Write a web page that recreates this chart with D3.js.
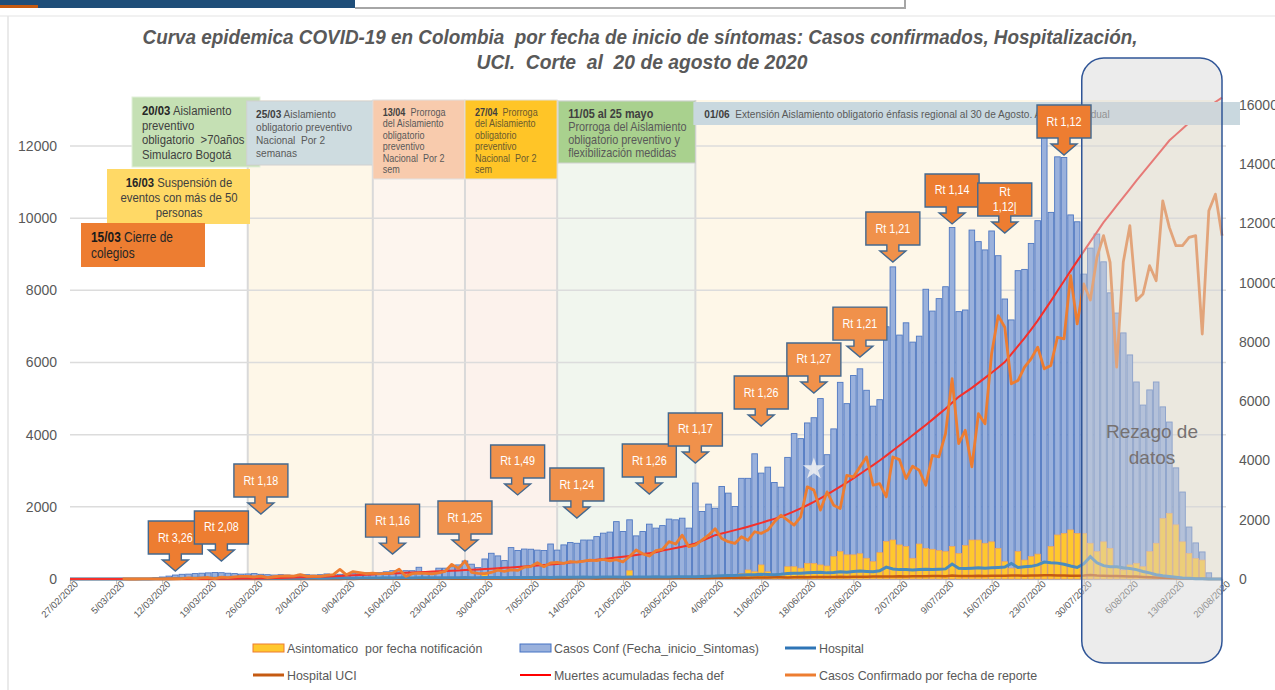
<!DOCTYPE html>
<html>
<head>
<meta charset="utf-8">
<script src="https://cdn.jsdelivr.net/npm/d3@7"></script>
<style>
  body { margin: 0; background: #fff; }
  svg { display: block; font-family: "Liberation Sans", Arial, sans-serif; }
  svg text { white-space: pre; }
</style>
</head>
<body>
<div id="chart"></div>
<script>
var svgWidth = 1275;
var svgHeight = 690;

// ---- data, one value per day from 27/02/2020 to 20/08/2020 ----
var startDate = new Date(2020, 1, 27);
var endDate = new Date(2020, 7, 20);
var dates = d3.timeDay.range(startDate, d3.timeDay.offset(endDate, 1));

// Casos Conf (Fecha_inicio_Sintomas) - left axis
var casosInicio = [
  0,0,0,0,0,0,0,0,2,1,3,6,12,
  30,55,80,110,130,135,150,160,170,180,175,160,150,135,140,150,130,120,110,120,110,100,130,120,110,120,140,120,130,150,160,170,175,
  176,176,200,230,200,230,230,325,200,200,300,300,340,390,500,410,315,555,713,640,510,870,790,830,825,800,790,970,800,945,
  1010,990,1080,1080,1175,1270,1300,1590,1315,1640,1195,1315,1520,1410,1480,1660,1640,1685,1410,2660,
  1870,2075,1960,2565,2380,2010,2790,2790,3470,2935,3100,2675,2545,3370,4030,3890,4325,4470,5000,3445,
  4160,5450,4860,5640,5825,5230,4790,4970,6990,8650,6760,7100,6565,6730,8030,7425,7770,8100,9740,7410,
  7455,9670,9350,9120,9645,8960,7760,7180,8545,8580,9300,9930,12500,10160,11700,11680,10090,9900,
  8450,9170,9560,8790,7930,7370,6820,6210,5460,4820,5240,5460,4770,4350,3080,2410,1440,1000,750,170,0,0
];

// Asintomatico por fecha notificacion - left axis
var asintomaticos = [
  0,0,0,0,0,0,0,0,0,0,0,0,0,0,0,0,0,0,0,0,0,0,0,0,0,0,0,0,0,0,0,
  0,0,0,0,0,0,0,0,0,0,0,0,0,0,0,0,0,0,0,0,0,0,0,0,0,0,0,0,0,0,0,
  20,170,20,0,0,30,0,0,60,0,20,0,0,30,0,0,40,0,20,0,30,0,20,230,30,40,20,50,40,30,60,40,50,
  50,60,80,70,90,60,100,150,250,200,390,200,100,120,340,340,300,435,430,390,360,620,760,670,670,700,575,480,730,1040,
  1080,945,900,575,970,850,825,790,760,900,710,
  925,1080,1080,990,1030,850,480,300,760,525,620,690,480,900,1220,1265,1360,1265,1265,990,
  760,1030,850,340,250,390,435,340,760,990,1680,1820,1500,1030,710,570,525,0,0,0
];

// Hospital - left axis
var hospital = [
  0,0,0,0,0,0,0,0,0,0,0,0,0,
  5,8,10,12,15,15,18,20,20,22,20,20,18,20,22,20,18,20,22,20,24,22,20,24,26,24,22,25,28,26,24,28,30,
  30,28,32,30,34,32,30,34,36,32,35,38,36,34,40,38,36,40,42,40,38,42,45,42,40,44,46,44,48,50,
  46,48,52,50,48,52,55,52,50,54,56,58,55,60,58,56,60,62,64,
  65,70,75,80,90,95,100,110,115,120,130,125,120,130,150,160,160,170,180,190,
  170,180,200,190,210,220,210,200,230,330,280,260,260,250,260,270,260,270,280,415,
  300,290,300,310,300,310,320,330,430,320,340,350,390,470,450,440,410,360,320,420,
  620,450,370,340,340,310,290,260,210,170,120,90,70,50,30,20,10,5,0,0,0
];

// Hospital UCI - left axis
var hospitalUci = [
  0,0,0,0,0,0,0,0,0,0,0,0,0,0,0,0,0,0,0,0,0,0,0,0,0,0,0,0,0,0,0,0,0,0,0,0,0,0,0,0,0,
  2,4,3,5,4,6,5,7,6,8,6,9,7,8,10,9,11,10,12,9,11,13,12,14,11,13,15,14,16,13,
  15,17,16,18,15,17,19,18,20,17,19,22,20,23,21,24,22,25,23,26,24,27,25,28,
  30,32,29,34,36,33,38,40,37,42,44,41,46,48,45,50,52,49,54,56,
  53,58,60,57,62,64,61,66,68,72,70,74,72,76,78,75,80,82,79,95,
  84,82,86,88,85,90,92,89,94,96,93,98,100,104,102,98,95,92,90,94,
  110,96,90,86,82,78,72,66,58,50,42,35,28,22,16,12,8,5,2,0,0
];

// Muertes acumuladas fecha def - right axis
var muertesAcum = [
  0,0,0,0,0,0,0,0,0,0,0,0,0,0,0,0,0,0,
  1,2,3,4,6,8,10,12,14,17,20,24,28,32,36,42,48,55,62,70,
  78,86,95,104,114,124,135,145,155,165,175,186,197,208,219,230,240,250,260,270,280,290,
  300,310,322,335,348,362,376,390,405,420,436,452,470,490,510,532,555,578,602,626,
  650,675,700,726,752,780,810,840,872,905,960,1000,1045,1090,1140,
  1200,1290,1385,1480,1535,1590,1650,1705,1765,1830,1895,1965,2030,2100,2190,2285,2385,2490,2600,2725,
  2850,2980,3115,3250,3395,3545,3695,3845,4000,4165,4335,4505,4675,4850,5025,5200,5380,5565,5750,5950,
  6150,6300,6450,6620,6790,6960,7140,7320,7590,7860,8130,8420,8720,9050,9380,9720,10060,10400,10730,11060,
  11390,11710,12035,12320,12600,12880,13160,13450,13720,13990,14260,14530,14800,15000,15200,15400,15590,15770,15950,16100,
  16250
];

// Casos Confirmado por fecha de reporte - right axis
var casosReporte = [
  0,0,0,0,0,0,0,0,
  1,0,0,6,2,7,6,11,8,14,39,17,37,50,15,65,48,75,92,88,68,100,48,76,94,108,96,146,92,98,89,120,150,325,140,250,
  215,180,200,170,190,200,335,90,180,200,190,170,210,260,495,360,605,225,190,180,
  220,300,260,310,290,400,420,550,415,540,560,530,590,570,600,640,620,660,610,650,
  580,760,980,850,775,955,1000,1260,1180,1480,1090,1145,
  1310,1480,1700,1370,1260,1200,1425,1310,1595,1540,1650,1930,2155,1990,1820,2100,3110,3000,2325,2940,
  2490,2380,3500,3445,3785,4120,3165,3220,2775,4120,4030,3390,3805,3670,3165,4175,4120,4905,6760,4570,
  5020,3785,5580,5240,7600,8890,8500,6590,6700,7150,7430,7825,7095,7210,8160,8105,10240,8610,
  9960,9420,10855,11590,10690,7150,10690,11925,9400,9620,10575,10070,12765,11870,11250,11250,11530,11590,8270,12430,12990,11590
];

// Rt callouts
var rtLabels = ["Rt 3,26", "Rt 2,08", "Rt 1,18", "Rt 1,16", "Rt 1,25", "Rt 1,49", "Rt 1,24", "Rt 1,26",
  "Rt 1,17", "Rt 1,26", "Rt 1,27", "Rt 1,21", "Rt 1,21", "Rt 1,14", "Rt\n1,12|", "Rt 1,12"];
var rtDates = ["14/03/2020", "21/03/2020", "27/03/2020", "16/04/2020", "27/04/2020", "5/05/2020", "14/05/2020", "25/05/2020",
  "1/06/2020", "11/06/2020", "19/06/2020", "26/06/2020", "1/07/2020", "10/07/2020", "18/07/2020", "27/07/2020"];
var rtTipValues = [220, 500, 1800, 690, 775, 2330, 1690, 2355, 3215, 4240, 5155, 6150, 8785, 9840, 9590, 11750];

// measure periods (background bands)
var bandStarts = ["25/03/2020", "13/04/2020", "27/04/2020", "11/05/2020", "1/06/2020", "30/07/2020"];
var bandEnds = ["13/04/2020", "27/04/2020", "11/05/2020", "1/06/2020", "30/07/2020", "20/08/2020"];

var leftTicks = [0, 2000, 4000, 6000, 8000, 10000, 12000];
var rightTicks = [0, 2000, 4000, 6000, 8000, 10000, 12000, 14000, 16000];

var parseDate = d3.timeParse("%d/%m/%Y");

var svg = d3.select("#chart")
  .append("svg")
  .attr("width", svgWidth)
  .attr("height", svgHeight);

svg.append("rect").attr("width", svgWidth).attr("height", svgHeight).attr("fill", "#fff");

// page header bits from the screenshot
svg.append("rect").attr("x", 0).attr("y", 0).attr("width", 355).attr("height", 8).attr("fill", "#1F4E79");
svg.append("rect").attr("x", 0).attr("y", 5).attr("width", 38).attr("height", 3).attr("fill", "#C55A11");
svg.append("line").attr("x1", 355).attr("x2", 905).attr("y1", 8).attr("y2", 8).attr("stroke", "#A6A6A6").attr("stroke-width", 2);
svg.append("line").attr("x1", 905).attr("x2", 905).attr("y1", 0).attr("y2", 9).attr("stroke", "#A6A6A6").attr("stroke-width", 2);
svg.append("line").attr("x1", 0).attr("x2", svgWidth).attr("y1", 16).attr("y2", 16).attr("stroke", "#E3E3E3").attr("stroke-width", 1);
svg.append("line").attr("x1", 8).attr("x2", 8).attr("y1", 16).attr("y2", svgHeight).attr("stroke", "#E3E3E3").attr("stroke-width", 1.5);

// scales
var xScale = d3.scaleTime().domain([startDate, endDate]).range([70, 1222]);
var yLeft = d3.scaleLinear().domain([0, 12000]).range([579, 146]);
var yRight = d3.scaleLinear().domain([0, 16000]).range([579, 105]);

// Step 1: title
var title = svg.append("g")
  .attr("fill", "#595959")
  .attr("font-weight", "bold")
  .attr("font-style", "italic")
  .attr("font-size", "20px")
  .attr("text-anchor", "middle");
title.append("text").attr("x", 640).attr("y", 44)
  .attr("textLength", 995).attr("lengthAdjust", "spacingAndGlyphs")
  .text("Curva epidemica COVID-19 en Colombia  por fecha de inicio de síntomas: Casos confirmados, Hospitalización,");
title.append("text").attr("x", 642).attr("y", 69)
  .attr("textLength", 331).attr("lengthAdjust", "spacingAndGlyphs")
  .text("UCI.  Corte  al  20 de agosto de 2020");

// Step 2: background bands
var bandColors = ["#FEF7E8", "#FDF5EE", "#FCF2EC", "#F1F6EE", "#FEF7E8", "#FEF7E8"];
var bandsGroup = svg.append("g");
bandsGroup.selectAll("rect")
  .data(bandStarts)
  .enter()
  .append("rect")
  .attr("x", (d, i) => xScale(parseDate(d)))
  .attr("y", 100)
  .attr("width", (d, i) => xScale(parseDate(bandEnds[i])) - xScale(parseDate(d)))
  .attr("height", 479)
  .attr("fill", (d, i) => bandColors[i]);

// gridlines
svg.append("g").selectAll("line")
  .data(leftTicks.slice(1))
  .enter()
  .append("line")
  .attr("x1", 70).attr("x2", 1226)
  .attr("y1", d => yLeft(d)).attr("y2", d => yLeft(d))
  .attr("stroke", "#DCDCDC")
  .attr("stroke-width", 1.5);

bandsGroup.selectAll("line")
  .data(bandStarts.slice(0, 5))
  .enter()
  .append("line")
  .attr("x1", d => xScale(parseDate(d))).attr("x2", d => xScale(parseDate(d)))
  .attr("y1", 100).attr("y2", 579)
  .attr("stroke", "#D9D9D9")
  .attr("stroke-width", 2);

// Step 3: axes
var leftAxis = d3.axisLeft(yLeft).tickValues(leftTicks).tickSize(0).tickPadding(0).tickFormat(d3.format("d"));
var yAxisL = svg.append("g").attr("transform", "translate(57,0)").call(leftAxis);
yAxisL.select(".domain").remove();
yAxisL.selectAll("text").attr("fill", "#595959").attr("font-size", "14px").attr("font-family", "Liberation Sans, sans-serif");

var rightAxis = d3.axisRight(yRight).tickValues(rightTicks).tickSize(0).tickPadding(0).tickFormat(d3.format("d"));
var yAxisR = svg.append("g").attr("transform", "translate(1239,0)").call(rightAxis);
yAxisR.select(".domain").remove();
yAxisR.selectAll("text").attr("fill", "#595959").attr("font-size", "14px").attr("font-family", "Liberation Sans, sans-serif");

var weekTicks = d3.timeDay.range(startDate, d3.timeDay.offset(endDate, 1), 7);
var bottomAxis = d3.axisBottom(xScale).tickValues(weekTicks).tickSize(5).tickFormat(d3.timeFormat("%-d/%m/%Y"));
var xAxis = svg.append("g").attr("transform", "translate(0,579)").call(bottomAxis);
xAxis.select(".domain").attr("stroke", "#D9D9D9").attr("stroke-width", 1.5);
xAxis.selectAll(".tick line").attr("stroke", "#BFBFBF");
xAxis.selectAll("text")
  .attr("fill", "#595959")
  .attr("font-size", "9.5px")
  .attr("font-family", "Liberation Sans, sans-serif")
  .attr("text-anchor", "end")
  .attr("dx", "0.2em")
  .attr("dy", "0.2em")
  .attr("transform", "rotate(-45)");

// Step 4: bars
var barWidth = 5.6;
svg.append("g").selectAll("rect")
  .data(casosInicio)
  .enter()
  .append("rect")
  .attr("x", (d, i) => xScale(dates[i]) - barWidth / 2)
  .attr("y", d => yLeft(d))
  .attr("width", barWidth)
  .attr("height", d => 579 - yLeft(d))
  .attr("fill", "#9AB1DC")
  .attr("stroke", "#4F78C2")
  .attr("stroke-width", 0.9);

svg.append("g").selectAll("rect")
  .data(asintomaticos)
  .enter()
  .append("rect")
  .attr("x", (d, i) => xScale(dates[i]) - barWidth / 2)
  .attr("y", d => yLeft(d))
  .attr("width", barWidth)
  .attr("height", d => 579 - yLeft(d))
  .attr("fill", "#FFC82E")
  .attr("stroke", "#F4A15A")
  .attr("stroke-width", 0.7);

// Step 5: lines
var lineLeft = d3.line().x((d, i) => xScale(dates[i])).y(d => yLeft(d));
var lineRight = d3.line().x((d, i) => xScale(dates[i])).y(d => yRight(d));

svg.append("path").datum(hospitalUci).attr("d", lineLeft)
  .attr("fill", "none").attr("stroke", "#C55A11").attr("stroke-width", 2.5);
svg.append("path").datum(hospital).attr("d", lineLeft)
  .attr("fill", "none").attr("stroke", "#4A8BBE").attr("stroke-width", 3);
svg.append("path").datum(muertesAcum).attr("d", lineRight)
  .attr("fill", "none").attr("stroke", "#F5302A").attr("stroke-width", 2);
svg.append("path").datum(casosReporte.slice(8)).attr("d", d3.line().x((d, i) => xScale(dates[i + 8])).y(d => yRight(d)))
  .attr("fill", "none").attr("stroke", "#ED7D31").attr("stroke-width", 2.8).attr("stroke-linejoin", "round");

// little star on the bars
svg.append("path")
  .attr("d", d3.symbol().type(d3.symbolStar).size(150)())
  .attr("transform", `translate(${xScale(parseDate("19/06/2020"))},${yLeft(3050)})`)
  .attr("fill", "#F2F2F2")
  .attr("opacity", 0.85);

// Step 6: Rt callouts
function calloutPath(cx, tip) {
  var bottom = tip - 17, top = bottom - 33;
  return "M" + (cx - 27) + "," + top + "H" + (cx + 27) + "V" + bottom + "H" + (cx + 6) + "V" + (bottom + 6) +
    "H" + (cx + 13) + "L" + cx + "," + tip + "L" + (cx - 13) + "," + (bottom + 6) + "H" + (cx - 6) + "V" + bottom +
    "H" + (cx - 27) + "Z";
}
var darkCallout = [true, true, false, false, false, false, false, false, false, false, false, false, false, true, true, true];

function drawCallout(group, i) {
  var cx = xScale(parseDate(rtDates[i]));
  var tip = yLeft(rtTipValues[i]);
  var g = group.append("g");
  g.append("path")
    .attr("d", calloutPath(cx, tip))
    .attr("fill", darkCallout[i] ? "#ED7D31" : "#F0914B")
    .attr("stroke", "#44698F")
    .attr("stroke-width", 1.4);
  var lines = rtLabels[i].split("\n");
  var cy = tip - 17 - 16.5;
  var t = g.append("text")
    .attr("transform", `translate(${cx},${cy}) scale(0.9,1)`)
    .attr("text-anchor", "middle")
    .attr("fill", "#fff")
    .attr("font-size", "12px");
  if (lines.length === 1) {
    t.append("tspan").attr("x", 0).attr("y", 4).text(lines[0]);
  } else {
    t.append("tspan").attr("x", 0).attr("y", -3).text(lines[0]);
    t.append("tspan").attr("x", 0).attr("y", 12).text(lines[1]);
  }
}
var calloutGroup = svg.append("g");
for (var c = 0; c < rtLabels.length - 1; c++) {
  drawCallout(calloutGroup, c);
}

// Step 7: measure boxes at the top
function drawBox(x0, x1, y0, y1, fill, stroke, lines, opts) {
  svg.append("rect")
    .attr("x", x0).attr("y", y0)
    .attr("width", x1 - x0).attr("height", y1 - y0)
    .attr("fill", fill)
    .attr("stroke", stroke || "none")
    .attr("stroke-width", 1);
  var g = svg.append("g")
    .attr("transform", `translate(${opts.x},${opts.y}) scale(${opts.sx || 1},1)`);
  lines.forEach(function(line, k) {
    var t = g.append("text")
      .attr("x", 0)
      .attr("y", k * opts.lh)
      .attr("font-size", opts.size + "px")
      .attr("fill", opts.color)
      .attr("text-anchor", opts.anchor || "start");
    if (line[0]) t.append("tspan").attr("font-weight", "bold").attr("fill", opts.boldColor || opts.color).text(line[0]);
    if (line[1]) t.append("tspan").text(line[1]);
  });
}

var xd = d => xScale(parseDate(d));

drawBox(132, 260, 97, 167, "#C5E0B4", "#E2F0D9",
  [["20/03", " Aislamiento"], ["", "preventivo"], ["", "obligatorio  >70años"], ["", "Simulacro Bogotá"]],
  {x: 142, y: 115, lh: 14.6, size: 13.5, sx: 0.84, color: "#404040", boldColor: "#262626"});
drawBox(xd("25/03/2020") - 1, xd("13/04/2020"), 101, 165, "#CEDCE0", "#D0D0D0",
  [["25/03", " Aislamiento"], ["", "obligatorio preventivo"], ["", "Nacional  Por 2"], ["", "semanas"]],
  {x: 256, y: 118, lh: 13, size: 11.5, sx: 0.88, color: "#595959", boldColor: "#404040"});
drawBox(107, 250, 169, 224, "#FFD966", null,
  [["16/03", " Suspensión de"], ["", "eventos con más de 50"], ["", "personas"]],
  {x: 179, y: 187, lh: 15, size: 13.5, sx: 0.84, color: "#404040", boldColor: "#262626", anchor: "middle"});
drawBox(81, 205, 223, 267, "#ED7D31", null,
  [["15/03", " Cierre de"], ["", "colegios"]],
  {x: 91, y: 242, lh: 16, size: 14.5, sx: 0.82, color: "#262626", boldColor: "#1a1a1a"});
drawBox(xd("13/04/2020"), xd("27/04/2020"), 100, 179, "#F8CBAD", "#E0E0E0",
  [["13/04", "  Prorroga"], ["", "del Aislamiento"], ["", "obligatorio"], ["", "preventivo"], ["", "Nacional  Por 2"], ["", "sem"]],
  {x: xd("13/04/2020") + 10, y: 116, lh: 11.5, size: 10.5, sx: 0.86, color: "#595959", boldColor: "#404040"});
drawBox(xd("27/04/2020"), xd("11/05/2020"), 100, 179, "#FFC527", "#E0E0E0",
  [["27/04", "  Prorroga"], ["", "del Aislamiento"], ["", "obligatorio"], ["", "preventivo"], ["", "Nacional  Por 2"], ["", "sem"]],
  {x: xd("27/04/2020") + 10, y: 116, lh: 11.5, size: 10.5, sx: 0.86, color: "#6B5A2E", boldColor: "#404040"});
drawBox(xd("11/05/2020") + 1, xd("1/06/2020"), 101, 163, "#A9D18E", "#D0D0D0",
  [["11/05 al 25 mayo", ""], ["", "Prorroga del Aislamiento"], ["", "obligatorio preventivo y"], ["", "flexibilización medidas"]],
  {x: xd("11/05/2020") + 11, y: 118, lh: 13, size: 12.5, sx: 0.87, color: "#595959", boldColor: "#404040"});
drawBox(xd("1/06/2020") - 2, 1240, 102, 125, "#C9D8DF", null,
  [["01/06", "  Extensión Aislamiento obligatorio énfasis regional al 30 de Agosto. Apertura gradual"]],
  {x: xd("1/06/2020") + 9, y: 118, lh: 0, size: 11, sx: 0.92, color: "#595959", boldColor: "#404040"});

// Step 8: "Rezago de datos" overlay
svg.append("rect")
  .attr("x", xd("30/07/2020") - 2)
  .attr("y", 58)
  .attr("width", 1222 - xd("30/07/2020") + 2)
  .attr("height", 605)
  .attr("rx", 22).attr("ry", 22)
  .attr("fill", "#D4D4D4")
  .attr("fill-opacity", 0.45)
  .attr("stroke", "#2F5597")
  .attr("stroke-width", 1.5);

var rezago = svg.append("text")
  .attr("text-anchor", "middle")
  .attr("fill", "#767171")
  .attr("font-size", "19px");
rezago.append("tspan").attr("x", 1152).attr("y", 438).text("Rezago de");
rezago.append("tspan").attr("x", 1152).attr("y", 464).text("datos");

// last callout sits on top of the overlay
drawCallout(svg, rtLabels.length - 1);

// Step 9: legend
var legend = svg.append("g").attr("font-size", "13.5px").attr("fill", "#595959");
var legendItems = [
  {x: 253, y: 648, type: "bar", fill: "#FFC82E", stroke: "#ED7D31", label: "Asintomatico  por fecha notificación"},
  {x: 520, y: 648, type: "bar", fill: "#9AB1DC", stroke: "#4472C4", label: "Casos Conf (Fecha_inicio_Sintomas)"},
  {x: 785, y: 648, type: "line", stroke: "#2E75B6", w: 3, label: "Hospital"},
  {x: 253, y: 675, type: "line", stroke: "#C55A11", w: 3, label: "Hospital UCI"},
  {x: 520, y: 675, type: "line", stroke: "#FF0000", w: 2, label: "Muertes acumuladas fecha def"},
  {x: 785, y: 675, type: "line", stroke: "#ED7D31", w: 3, label: "Casos Confirmado por fecha de reporte"}
];
legendItems.forEach(function(it) {
  if (it.type === "bar") {
    legend.append("rect").attr("x", it.x).attr("y", it.y - 4).attr("width", 31).attr("height", 8)
      .attr("fill", it.fill).attr("stroke", it.stroke).attr("stroke-width", 1);
  } else {
    legend.append("line").attr("x1", it.x).attr("x2", it.x + 31).attr("y1", it.y).attr("y2", it.y)
      .attr("stroke", it.stroke).attr("stroke-width", it.w);
  }
  legend.append("text")
    .attr("transform", `translate(${it.x + 34},${it.y + 4.5}) scale(0.92,1)`)
    .text(it.label);
});
</script>
</body>
</html>
